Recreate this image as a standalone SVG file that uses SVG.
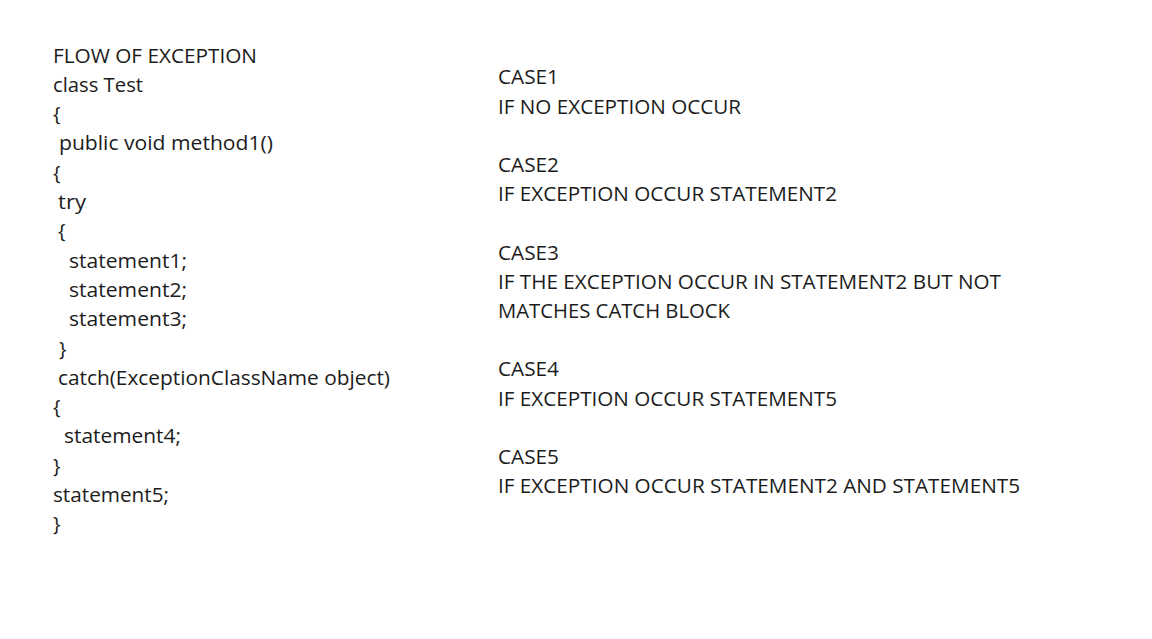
<svg xmlns="http://www.w3.org/2000/svg" width="1152" height="639" viewBox="0 0 1152 639">
<style>
text{font-family:"Open Sans","Noto Sans","Liberation Sans",sans-serif;font-size:20px;fill:#1c1c1c;}
</style>
<rect width="1152" height="639" fill="#fff"/>
<g id="code">
<text x="53" y="62.5" textLength="204" lengthAdjust="spacingAndGlyphs">FLOW OF EXCEPTION</text>
<text x="53" y="91.8" textLength="90" lengthAdjust="spacingAndGlyphs">class Test</text>
<text x="53" y="121.1">{</text>
<text x="59" y="150.4" textLength="214" lengthAdjust="spacingAndGlyphs">public void method1()</text>
<text x="53" y="179.7">{</text>
<text x="58" y="209" textLength="28" lengthAdjust="spacingAndGlyphs">try</text>
<text x="58" y="238.3">{</text>
<text x="69" y="267.6" textLength="118" lengthAdjust="spacingAndGlyphs">statement1;</text>
<text x="69" y="296.9" textLength="118" lengthAdjust="spacingAndGlyphs">statement2;</text>
<text x="69" y="326.2" textLength="118" lengthAdjust="spacingAndGlyphs">statement3;</text>
<text x="59" y="355.5">}</text>
<text x="58" y="384.8" textLength="332" lengthAdjust="spacingAndGlyphs">catch(ExceptionClassName object)</text>
<text x="53" y="414.1">{</text>
<text x="64" y="443.4" textLength="117" lengthAdjust="spacingAndGlyphs">statement4;</text>
<text x="53" y="472.7">}</text>
<text x="53" y="502" textLength="116" lengthAdjust="spacingAndGlyphs">statement5;</text>
<text x="53" y="531.3">}</text>
</g>
<g id="cases">
<text x="498" y="84.3" textLength="61" lengthAdjust="spacingAndGlyphs">CASE1</text>
<text x="498" y="113.5" textLength="243" lengthAdjust="spacingAndGlyphs">IF NO EXCEPTION OCCUR</text>
<text x="498" y="171.9" textLength="61" lengthAdjust="spacingAndGlyphs">CASE2</text>
<text x="498" y="201.1" textLength="339" lengthAdjust="spacingAndGlyphs">IF EXCEPTION OCCUR STATEMENT2</text>
<text x="498" y="259.5" textLength="61" lengthAdjust="spacingAndGlyphs">CASE3</text>
<text x="498" y="288.7" textLength="503" lengthAdjust="spacingAndGlyphs">IF THE EXCEPTION OCCUR IN STATEMENT2 BUT NOT</text>
<text x="498" y="317.9" textLength="232" lengthAdjust="spacingAndGlyphs">MATCHES CATCH BLOCK</text>
<text x="498" y="376.3" textLength="61" lengthAdjust="spacingAndGlyphs">CASE4</text>
<text x="498" y="405.5" textLength="339" lengthAdjust="spacingAndGlyphs">IF EXCEPTION OCCUR STATEMENT5</text>
<text x="498" y="463.9" textLength="61" lengthAdjust="spacingAndGlyphs">CASE5</text>
<text x="498" y="493.1" textLength="522" lengthAdjust="spacingAndGlyphs">IF EXCEPTION OCCUR STATEMENT2 AND STATEMENT5</text>
</g>
</svg>
